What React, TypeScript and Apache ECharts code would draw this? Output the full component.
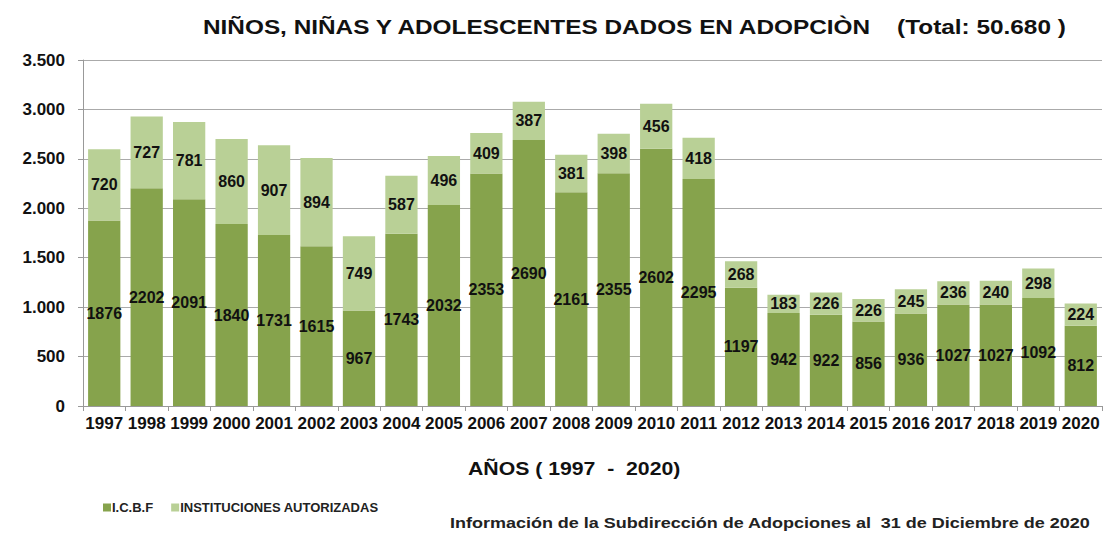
import React, { useEffect, useRef } from "react";
import * as echarts from "echarts";

const years = ["1997","1998","1999","2000","2001","2002","2003","2004","2005","2006","2007","2008","2009","2010","2011","2012","2013","2014","2015","2016","2017","2018","2019","2020"];
const icbf = [1876,2202,2091,1840,1731,1615,967,1743,2032,2353,2690,2161,2355,2602,2295,1197,942,922,856,936,1027,1027,1092,812];
const instituciones = [720,727,781,860,907,894,749,587,496,409,387,381,398,456,418,268,183,226,226,245,236,240,298,224];
const yTicks = [0, 500, 1000, 1500, 2000, 2500, 3000, 3500];

const FONT = "'Liberation Sans', Arial, sans-serif";

function fmt(v: number): string {
  return v.toString().replace(/\B(?=(\d{3})+(?!\d))/g, ".");
}

export default function App() {
  const ref = useRef<HTMLDivElement>(null);
  useEffect(() => {
    if (!ref.current) return;
    const chart = echarts.init(ref.current, null, { renderer: "svg" });
    const labelStyle = {
      show: true,
      position: "inside" as const,
      color: "#111",
      fontFamily: FONT,
      fontWeight: "bold" as const,
      fontSize: 16,
    };
    chart.setOption({
      animation: false,
      backgroundColor: "#ffffff",
      textStyle: { fontFamily: FONT },
      grid: { left: 83, right: 3, top: 60, bottom: 127 },
      legend: {
        left: 98,
        top: 496,
        itemWidth: 8,
        itemHeight: 8,
        itemGap: 18,
        icon: "rect",
        textStyle: { fontFamily: FONT, fontWeight: "bold", fontSize: 13, color: "#222", padding: [0, 0, 0, -4] },
        data: ["I.C.B.F", "INSTITUCIONES AUTORIZADAS"],
      },
      graphic: [
        {
          type: "text",
          x: 203,
          y: 16,
          scaleX: 1.16,
          style: {
            text: "NIÑOS, NIÑAS Y ADOLESCENTES DADOS EN ADOPCIÒN    (Total: 50.680 )",
            font: "bold 21px " + FONT,
            fill: "#111",
          },
        },
        {
          type: "text",
          x: 468,
          y: 460,
          scaleX: 1.18,
          style: {
            text: "AÑOS ( 1997  -  2020)",
            font: "bold 18px " + FONT,
            fill: "#111",
          },
        },
        {
          type: "text",
          x: 450,
          y: 516,
          scaleX: 1.2,
          style: {
            text: "Información de la Subdirección de Adopciones al  31 de Diciembre de 2020",
            font: "bold 15px " + FONT,
            fill: "#222",
          },
        },
      ],
      xAxis: {
        type: "category",
        data: years,
        axisLine: { lineStyle: { color: "#999", width: 1 } },
        axisTick: { show: true, alignWithLabel: false, length: 5, lineStyle: { color: "#999" } },
        axisLabel: { color: "#111", fontFamily: FONT, fontWeight: "bold", fontSize: 17, margin: 9, interval: 0 },
      },
      yAxis: {
        type: "value",
        min: 0,
        max: 3500,
        interval: 500,
        axisLine: { show: true, lineStyle: { color: "#999", width: 1 } },
        axisTick: { show: true, length: 5, lineStyle: { color: "#999" } },
        splitLine: { lineStyle: { color: "#aaa", width: 1 } },
        axisLabel: {
          color: "#111",
          fontFamily: FONT,
          fontWeight: "bold",
          fontSize: 17,
          margin: 18,
          formatter: (v: number) => (yTicks.includes(v) ? fmt(v) : ""),
        },
      },
      series: [
        {
          name: "I.C.B.F",
          type: "bar",
          stack: "total",
          data: icbf,
          barCategoryGap: "24%",
          itemStyle: { color: "#86a34c" },
          label: labelStyle,
        },
        {
          name: "INSTITUCIONES AUTORIZADAS",
          type: "bar",
          stack: "total",
          data: instituciones,
          itemStyle: { color: "#b9d096" },
          label: labelStyle,
        },
      ],
    });
    return () => chart.dispose();
  }, []);
  return (
    <div
      ref={ref}
      style={{ position: "fixed", left: 0, top: 0, width: 1105, height: 533 }}
    />
  );
}
